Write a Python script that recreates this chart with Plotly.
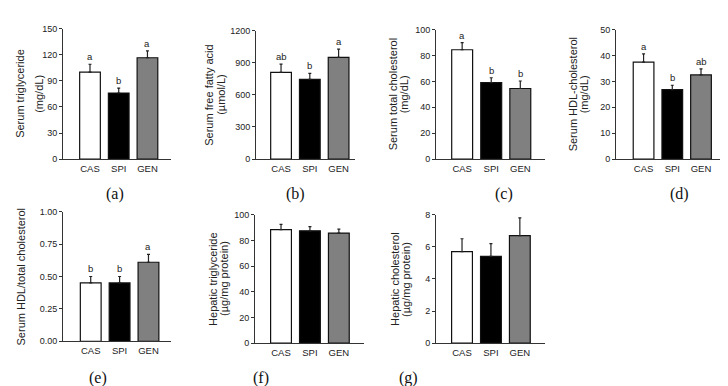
import plotly.graph_objects as go

W, H = 728, 386

groups = ["CAS", "SPI", "GEN"]
bar_colors = ["#ffffff", "#000000", "#808080"]

# Panel data
tg_vals = [100, 76, 116.5]
tg_errs = [9, 5.5, 8]
tg_letters = ["a", "b", "a"]

ffa_vals = [810, 745, 950]
ffa_errs = [76, 55, 76]
ffa_letters = ["ab", "b", "a"]

tc_vals = [84.4, 59, 54.5]
tc_errs = [5.5, 3.8, 5.8]
tc_letters = ["a", "b", "b"]

hdl_vals = [37.4, 26.8, 32.5]
hdl_errs = [3.2, 1.7, 2.3]
hdl_letters = ["a", "b", "ab"]

ratio_vals = [0.45, 0.45, 0.61]
ratio_errs = [0.05, 0.05, 0.06]
ratio_letters = ["b", "b", "a"]

htg_vals = [88.4, 87.4, 85.7]
htg_errs = [4, 3.3, 3]
htg_letters = ["", "", ""]

hc_vals = [5.7, 5.4, 6.7]
hc_errs = [0.8, 0.8, 1.1]
hc_letters = ["", "", ""]

tick_sets = [
    [0, 30, 60, 90, 120, 150],
    [0, 300, 600, 900, 1200],
    [0, 20, 40, 60, 80, 100],
    [0, 10, 20, 30, 40, 50],
    [0, 0.25, 0.5, 0.75, 1.0],
    [0, 20, 40, 60, 80, 100],
    [0, 2, 4, 6, 8],
]
tick_texts = [
    None, None, None, None,
    ["0.00", "0.25", "0.50", "0.75", "1.00"],
    None, None,
]
title_line1 = [
    "Serum triglyceride",
    "Serum free fatty acid",
    "Serum total cholesterol",
    "Serum HDL-cholesterol",
    "Serum HDL/total cholesterol",
    "Hepatic triglyceride",
    "Hepatic cholesterol",
]
title_line2 = ["(mg/dL)", "(µmol/L)", "(mg/dL)", "(mg/dL)", "", "(µg/mg protein)", "(µg/mg protein)"]
panel_labels = ["(a)", "(b)", "(c)", "(d)", "(e)", "(f)", "(g)"]

panels = [
    (tg_vals, tg_errs, tg_letters),
    (ffa_vals, ffa_errs, ffa_letters),
    (tc_vals, tc_errs, tc_letters),
    (hdl_vals, hdl_errs, hdl_letters),
    (ratio_vals, ratio_errs, ratio_letters),
    (htg_vals, htg_errs, htg_letters),
    (hc_vals, hc_errs, hc_letters),
]

# layout geometry in pixels: x_left, x_right, y_top, y_bottom, xr_lo, xr_hi
geom = [
    (55, 163, 16, 150, -0.94, 2.82),
    (248, 347, 18, 150, -0.87, 2.57),
    (428, 537, 17, 150, -0.90, 2.85),
    (608, 718, 17, 150, -0.96, 2.87),
    (55, 163, 204, 337, -0.96, 2.78),
    (247, 356, 207, 339, -0.90, 2.87),
    (428, 537, 207, 339, -0.90, 2.87),
]
title_x1 = [12, 201, 385, 565, 13, 205, 387]
title_x2 = [31, 213, 396, 576, 0, 216, 398]
label_pos = [(107, 186), (287, 186), (496, 186), (671, 186), (90, 375), (253, 375), (400, 375)]

fig = go.Figure()
layout = dict(
    width=W, height=H, margin=dict(l=0, r=0, t=0, b=0),
    paper_bgcolor="white", plot_bgcolor="white", showlegend=False,
    font=dict(family="Liberation Sans, Arial, sans-serif", color="#222222"),
)
annotations = []

for i, ((vals, errs, letters), (xl, xr, yt, yb, lo, hi)) in enumerate(zip(panels, geom)):
    n = i + 1
    xa = "x" if n == 1 else f"x{n}"
    ya = "y" if n == 1 else f"y{n}"
    xkey = "xaxis" if n == 1 else f"xaxis{n}"
    ykey = "yaxis" if n == 1 else f"yaxis{n}"
    fig.add_trace(go.Bar(
        x=[0, 1, 2], y=vals, width=0.72,
        marker=dict(color=bar_colors, line=dict(color="#111111", width=1.2)),
        error_y=dict(type="data", array=errs, arrayminus=[0, 0, 0], symmetric=False,
                     color="#222222", thickness=1.2, width=1.5),
        xaxis=xa, yaxis=ya, hoverinfo="skip",
    ))
    ticks = tick_sets[i]
    layout[xkey] = dict(
        domain=[xl / W, xr / W], range=[lo, hi], anchor=ya,
        tickmode="array", tickvals=[0, 1, 2], ticktext=groups,
        showline=True, linecolor="#333333", linewidth=1, ticks="",
        showgrid=False, zeroline=False, tickfont=dict(size=9.5, color="#222222"),
        fixedrange=True,
    )
    layout[ykey] = dict(
        domain=[1 - yb / H, 1 - yt / H], range=[0, ticks[-1]], anchor=xa,
        tickmode="array", tickvals=ticks,
        ticktext=tick_texts[i] if tick_texts[i] else [str(t) for t in ticks],
        showline=True, linecolor="#333333", linewidth=1,
        ticks="outside", ticklen=3, tickcolor="#333333",
        showgrid=False, zeroline=False, tickfont=dict(size=9, color="#222222"),
        fixedrange=True,
    )
    for j, (v, e, L) in enumerate(zip(vals, errs, letters)):
        if L:
            annotations.append(dict(
                x=j, y=v + e, xref=xa, yref=ya, text=L, showarrow=False,
                yanchor="bottom", yshift=0, font=dict(size=9.5, color="#222222"),
            ))
    ymid = 1 - (yt + yb) / 2 / H
    annotations.append(dict(
        x=title_x1[i] / W, y=ymid, xref="paper", yref="paper",
        text=title_line1[i], textangle=-90, showarrow=False,
        xanchor="center", yanchor="middle", font=dict(size=11, color="#222222"),
    ))
    if title_line2[i]:
        annotations.append(dict(
            x=title_x2[i] / W, y=ymid, xref="paper", yref="paper",
            text=title_line2[i], textangle=-90, showarrow=False,
            xanchor="center", yanchor="middle", font=dict(size=11, color="#222222"),
        ))
    lx, ly = label_pos[i]
    annotations.append(dict(
        x=lx / W, y=1 - ly / H, xref="paper", yref="paper",
        text=panel_labels[i], showarrow=False, xanchor="center", yanchor="middle",
        font=dict(family="Liberation Serif, Times New Roman, serif", size=16, color="#111111"),
    ))

layout["annotations"] = annotations
fig.update_layout(**layout)
fig.write_html("out.html")
